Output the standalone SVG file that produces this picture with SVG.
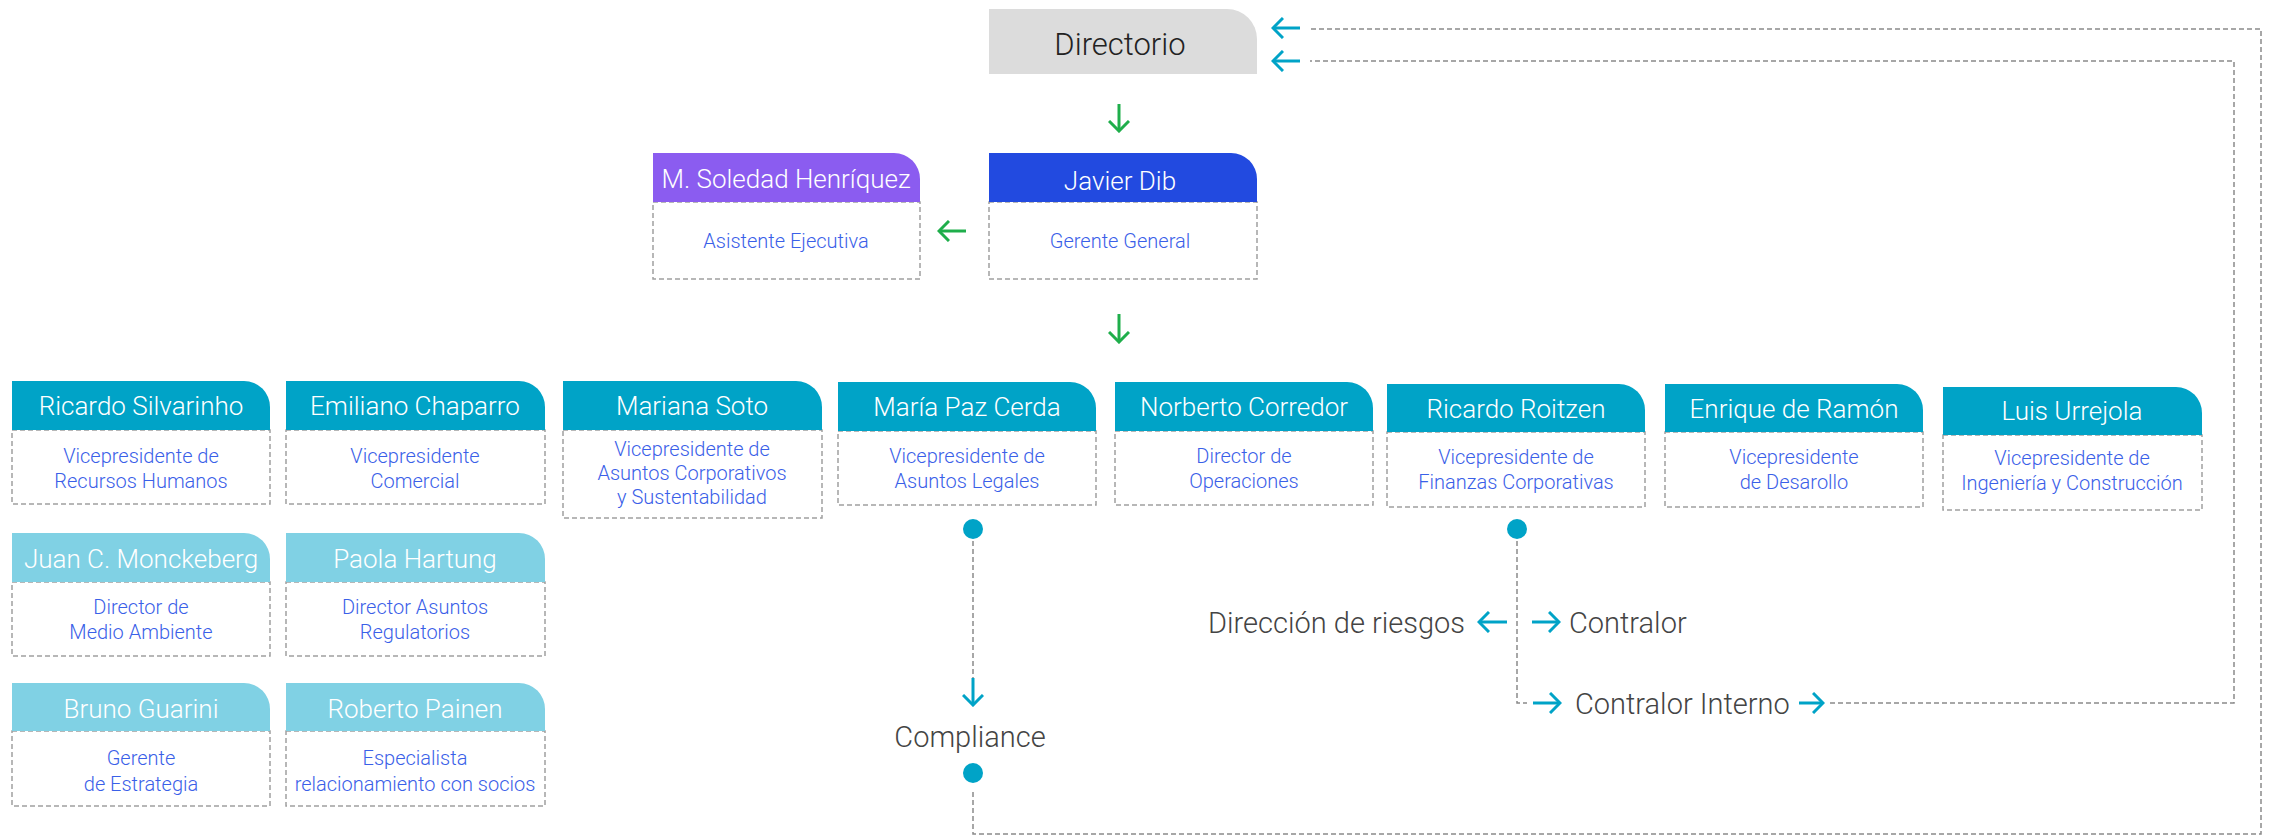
<svg xmlns="http://www.w3.org/2000/svg" width="2270" height="835" viewBox="0 0 2270 835">
<style>
text{font-family:Roboto,"Liberation Sans",Arial,sans-serif}
.nm{font-weight:300;font-size:26px;fill:#ffffff;text-anchor:middle}
.sb{font-weight:300;font-size:20px;fill:#3a60e8;text-anchor:middle}
.lb{font-weight:300;font-size:29px;fill:#444444}
.body{fill:#ffffff;stroke:#a0a0a0;stroke-width:1.5;stroke-dasharray:5 3}
.t1{fill:#00a3c7}
.t2{fill:#80d1e4}
.dash{fill:none;stroke:#8a8a8a;stroke-width:1.5;stroke-dasharray:5 3}
.ag{fill:none;stroke:#1fae4b;stroke-width:3;marker-end:url(#mg)}
.ac{fill:none;stroke:#00a3c7;stroke-width:3;marker-end:url(#mc)}
.dot{fill:#00a3c7}
</style>
<defs>
<marker id="mg" viewBox="0 0 13 22" refX="11" refY="11" markerWidth="13" markerHeight="22" markerUnits="userSpaceOnUse" orient="auto"><path d="M1,1 L11,11 L1,21" fill="none" stroke="#1fae4b" stroke-width="3"/></marker>
<marker id="mc" viewBox="0 0 13 22" refX="11" refY="11" markerWidth="13" markerHeight="22" markerUnits="userSpaceOnUse" orient="auto"><path d="M1,1 L11,11 L1,21" fill="none" stroke="#00a3c7" stroke-width="3"/></marker>
</defs>

<g id="directorio">
<path d="M989,9 H1227 A30,30 0 0 1 1257,39 V74 H989 Z" fill="#dcdcdc"/>
<text class="lb" x="1120" y="55" style="font-size:31px;fill:#222;text-anchor:middle">Directorio</text>
</g>

<g id="javier-dib">
<rect class="body" x="989" y="202" width="268" height="77"/>
<path d="M989,153 H1231 A26,26 0 0 1 1257,179 V202 H989 Z" fill="#224ae0"/>
<text class="nm" x="1120" y="190">Javier Dib</text>
<text class="sb" x="1120" y="248">Gerente General</text>
</g>

<g id="soledad-henriquez">
<rect class="body" x="653" y="202" width="267" height="77"/>
<path d="M653,153 H894 A26,26 0 0 1 920,179 V202 H653 Z" fill="#8b5cf0"/>
<text class="nm" x="786" y="188">M. Soledad Henríquez</text>
<text class="sb" x="786" y="248">Asistente Ejecutiva</text>
</g>

<g id="ricardo-silvarinho">
<rect class="body" x="12" y="430" width="258" height="74"/>
<path class="t1" d="M12,381 H244 A26,26 0 0 1 270,407 V430 H12 Z"/>
<text class="nm" x="141" y="415">Ricardo Silvarinho</text>
<text class="sb" x="141" y="463">Vicepresidente de</text>
<text class="sb" x="141" y="488">Recursos Humanos</text>
</g>

<g id="emiliano-chaparro">
<rect class="body" x="286" y="430" width="259" height="74"/>
<path class="t1" d="M286,381 H519 A26,26 0 0 1 545,407 V430 H286 Z"/>
<text class="nm" x="415" y="415">Emiliano Chaparro</text>
<text class="sb" x="415" y="463">Vicepresidente</text>
<text class="sb" x="415" y="488">Comercial</text>
</g>

<g id="mariana-soto">
<rect class="body" x="563" y="430" width="259" height="88"/>
<path class="t1" d="M563,381 H796 A26,26 0 0 1 822,407 V430 H563 Z"/>
<text class="nm" x="692" y="415">Mariana Soto</text>
<text class="sb" x="692" y="456">Vicepresidente de</text>
<text class="sb" x="692" y="480">Asuntos Corporativos</text>
<text class="sb" x="692" y="504">y Sustentabilidad</text>
</g>

<g id="maria-paz-cerda">
<rect class="body" x="838" y="431" width="258" height="74"/>
<path class="t1" d="M838,382 H1070 A26,26 0 0 1 1096,408 V431 H838 Z"/>
<text class="nm" x="967" y="416">María Paz Cerda</text>
<text class="sb" x="967" y="463">Vicepresidente de</text>
<text class="sb" x="967" y="488">Asuntos Legales</text>
</g>

<g id="norberto-corredor">
<rect class="body" x="1115" y="431" width="258" height="74"/>
<path class="t1" d="M1115,382 H1347 A26,26 0 0 1 1373,408 V431 H1115 Z"/>
<text class="nm" x="1244" y="416">Norberto Corredor</text>
<text class="sb" x="1244" y="463">Director de</text>
<text class="sb" x="1244" y="488">Operaciones</text>
</g>

<g id="ricardo-roitzen">
<rect class="body" x="1387" y="432" width="258" height="75"/>
<path class="t1" d="M1387,384 H1619 A26,26 0 0 1 1645,410 V432 H1387 Z"/>
<text class="nm" x="1516" y="418">Ricardo Roitzen</text>
<text class="sb" x="1516" y="464">Vicepresidente de</text>
<text class="sb" x="1516" y="489">Finanzas Corporativas</text>
</g>

<g id="enrique-de-ramon">
<rect class="body" x="1665" y="432" width="258" height="75"/>
<path class="t1" d="M1665,384 H1897 A26,26 0 0 1 1923,410 V432 H1665 Z"/>
<text class="nm" x="1794" y="418">Enrique de Ramón</text>
<text class="sb" x="1794" y="464">Vicepresidente</text>
<text class="sb" x="1794" y="489">de Desarollo</text>
</g>

<g id="luis-urrejola">
<rect class="body" x="1943" y="435" width="259" height="75"/>
<path class="t1" d="M1943,387 H2176 A26,26 0 0 1 2202,413 V435 H1943 Z"/>
<text class="nm" x="2072" y="420">Luis Urrejola</text>
<text class="sb" x="2072" y="465">Vicepresidente de</text>
<text class="sb" x="2072" y="490">Ingeniería y Construcción</text>
</g>

<g id="juan-monckeberg">
<rect class="body" x="12" y="582" width="258" height="74"/>
<path class="t2" d="M12,533 H244 A26,26 0 0 1 270,559 V582 H12 Z"/>
<text class="nm" x="141" y="568">Juan C. Monckeberg</text>
<text class="sb" x="141" y="614">Director de</text>
<text class="sb" x="141" y="639">Medio Ambiente</text>
</g>

<g id="paola-hartung">
<rect class="body" x="286" y="582" width="259" height="74"/>
<path class="t2" d="M286,533 H519 A26,26 0 0 1 545,559 V582 H286 Z"/>
<text class="nm" x="415" y="568">Paola Hartung</text>
<text class="sb" x="415" y="614">Director Asuntos</text>
<text class="sb" x="415" y="639">Regulatorios</text>
</g>

<g id="bruno-guarini">
<rect class="body" x="12" y="731" width="258" height="75"/>
<path class="t2" d="M12,683 H244 A26,26 0 0 1 270,709 V731 H12 Z"/>
<text class="nm" x="141" y="718">Bruno Guarini</text>
<text class="sb" x="141" y="765">Gerente</text>
<text class="sb" x="141" y="791">de Estrategia</text>
</g>

<g id="roberto-painen">
<rect class="body" x="286" y="731" width="259" height="75"/>
<path class="t2" d="M286,683 H519 A26,26 0 0 1 545,709 V731 H286 Z"/>
<text class="nm" x="415" y="718">Roberto Painen</text>
<text class="sb" x="415" y="765">Especialista</text>
<text class="sb" x="415" y="791">relacionamiento con socios</text>
</g>

<g id="compliance">
<text class="lb" x="970" y="747" text-anchor="middle">Compliance</text>
</g>
<g id="direccion-riesgos">
<text class="lb" x="1465" y="633" text-anchor="end">Dirección de riesgos</text>
</g>
<g id="contralor">
<text class="lb" x="1569" y="633">Contralor</text>
</g>
<g id="contralor-interno">
<text class="lb" x="1575" y="714">Contralor Interno</text>
</g>

<g id="connectors">
<line class="ag" x1="1119" y1="104" x2="1119" y2="131"/>
<line class="ag" x1="1119" y1="314" x2="1119" y2="342"/>
<line class="ag" x1="966" y1="231" x2="939" y2="231"/>
<line class="ac" x1="1300" y1="28" x2="1273" y2="28"/>
<line class="ac" x1="1300" y1="61" x2="1273" y2="61"/>
<path class="dash" d="M973,792 V834 H2261 V29 H1310"/>
<path class="dash" d="M1830,703 H2234 V61 H1310"/>
<path class="dash" d="M973,541 V680"/>
<path class="dash" d="M1517,541 V703 H1527"/>
<line class="ac" x1="973" y1="678" x2="973" y2="705"/>
<line class="ac" x1="1507" y1="622" x2="1479" y2="622"/>
<line class="ac" x1="1532" y1="622" x2="1559" y2="622"/>
<line class="ac" x1="1533" y1="703" x2="1560" y2="703"/>
<line class="ac" x1="1799" y1="703" x2="1823" y2="703"/>
<circle class="dot" cx="973" cy="529" r="10"/>
<circle class="dot" cx="973" cy="773" r="10"/>
<circle class="dot" cx="1517" cy="529" r="10"/>
</g>
</svg>
